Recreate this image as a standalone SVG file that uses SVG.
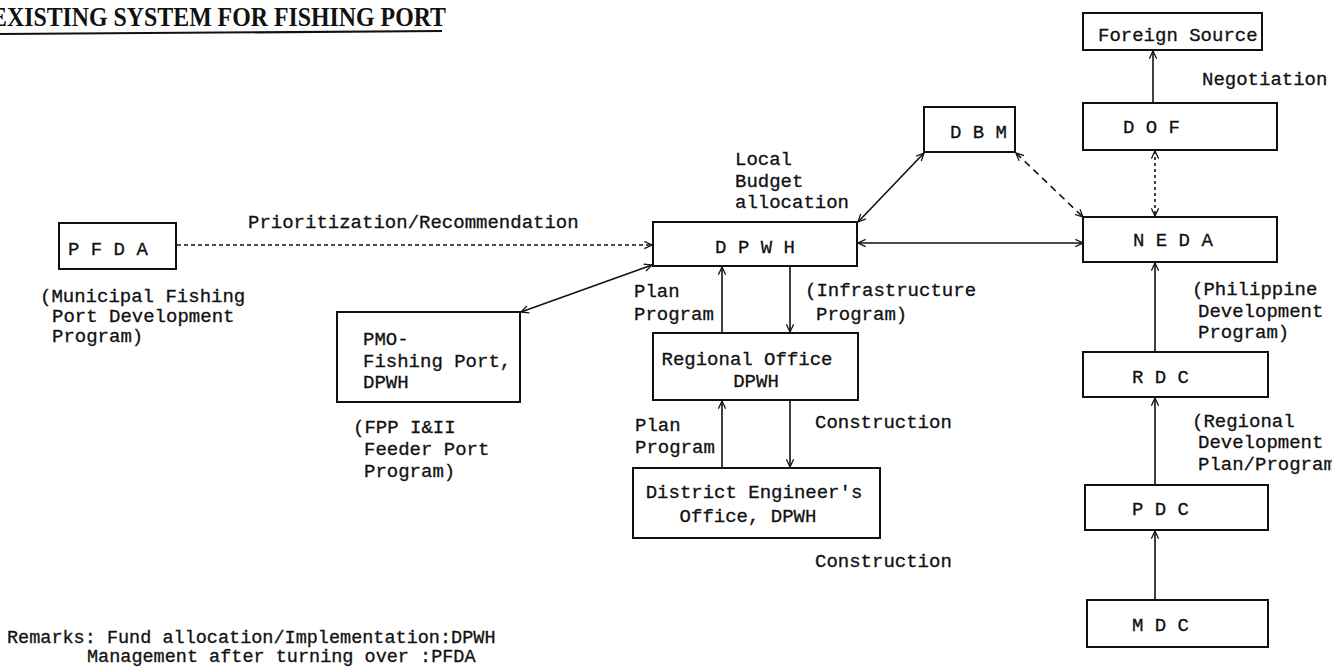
<svg xmlns="http://www.w3.org/2000/svg" width="1332" height="668" viewBox="0 0 1332 668">
<defs>
<marker id="ah" viewBox="0 0 10 10" refX="9.5" refY="5" markerWidth="9" markerHeight="9" markerUnits="userSpaceOnUse" orient="auto-start-reverse">
<path d="M1,1 L9.5,5 L1,9" fill="none" stroke="#111" stroke-width="1.4"/>
</marker>
<style>
.box{fill:#fff;stroke:#111;stroke-width:2}
.t{font-family:"Liberation Mono","Courier New",monospace;font-size:19px;fill:#111;stroke:#111;stroke-width:0.3}
.rm{font-size:18.5px}
.c{text-anchor:middle}
.ln{fill:none;stroke:#111;stroke-width:1.6}
.dash{stroke-dasharray:4 3}
.dash2{stroke-dasharray:7 5}
.dot{stroke-dasharray:3 3}
.title{font-family:"Liberation Serif","Times New Roman",serif;font-weight:bold;font-size:27px;fill:#111}
</style>
</defs>
<rect width="1332" height="668" fill="#fff"/>

<g id="title">
<text class="title" x="-9" y="26" textLength="455" lengthAdjust="spacingAndGlyphs">EXISTING SYSTEM FOR FISHING PORT</text>
<path d="M0,34 L442,31" stroke="#111" stroke-width="2.2" fill="none"/>
</g>

<g id="connectors">
<line class="ln dash" x1="177" y1="245" x2="652" y2="245" marker-end="url(#ah)"/>
<line class="ln" x1="521" y1="312" x2="652" y2="265" marker-start="url(#ah)" marker-end="url(#ah)"/>
<line class="ln" x1="858" y1="222" x2="924" y2="153" marker-start="url(#ah)" marker-end="url(#ah)"/>
<line class="ln dash2" x1="1016" y1="153" x2="1083" y2="217" marker-start="url(#ah)" marker-end="url(#ah)"/>
<line class="ln" x1="858" y1="243" x2="1083" y2="243" marker-start="url(#ah)" marker-end="url(#ah)"/>
<line class="ln dot" x1="1155" y1="151" x2="1155" y2="216" marker-start="url(#ah)" marker-end="url(#ah)"/>
<line class="ln" x1="1153" y1="103" x2="1153" y2="51" marker-end="url(#ah)"/>
<line class="ln" x1="1155" y1="352" x2="1155" y2="263" marker-end="url(#ah)"/>
<line class="ln" x1="1155" y1="485" x2="1155" y2="398" marker-end="url(#ah)"/>
<line class="ln" x1="1155" y1="600" x2="1155" y2="531" marker-end="url(#ah)"/>
<line class="ln" x1="722" y1="333" x2="722" y2="267" marker-end="url(#ah)"/>
<line class="ln" x1="790" y1="266" x2="790" y2="332" marker-end="url(#ah)"/>
<line class="ln" x1="722" y1="468" x2="722" y2="401" marker-end="url(#ah)"/>
<line class="ln" x1="790" y1="400" x2="790" y2="467" marker-end="url(#ah)"/>
</g>

<g id="labels">
<text class="t" x="248" y="228">Prioritization/Recommendation</text>
<text class="t" x="735" y="165">Local</text>
<text class="t" x="735" y="187">Budget</text>
<text class="t" x="735" y="208">allocation</text>
<text class="t" x="634" y="297">Plan</text>
<text class="t" x="634" y="320">Program</text>
<text class="t" x="805" y="296">(Infrastructure</text>
<text class="t" x="816" y="320">Program)</text>
<text class="t" x="635" y="431">Plan</text>
<text class="t" x="635" y="453">Program</text>
<text class="t" x="815" y="428">Construction</text>
<text class="t" x="815" y="567">Construction</text>
<text class="t" x="1202" y="85">Negotiation</text>
<text class="t" x="1192" y="295">(Philippine</text>
<text class="t" x="1198" y="317">Development</text>
<text class="t" x="1198" y="338">Program)</text>
<text class="t" x="1192" y="427">(Regional</text>
<text class="t" x="1198" y="448">Development</text>
<text class="t" x="1198" y="470">Plan/Program</text>
<text class="t" x="40" y="302">(Municipal Fishing</text>
<text class="t" x="52" y="322">Port Development</text>
<text class="t" x="52" y="342">Program)</text>
<text class="t" x="353" y="433">(FPP I&amp;II</text>
<text class="t" x="364" y="455">Feeder Port</text>
<text class="t" x="364" y="477">Program)</text>
<text class="t rm" x="7" y="643">Remarks: Fund allocation/Implementation:DPWH</text>
<text class="t rm" x="87" y="662">Management after turning over :PFDA</text>
</g>

<g id="pfda"><rect class="box" x="59" y="223" width="117" height="46"/><text class="t" x="68" y="255">P F D A</text></g>
<g id="dpwh"><rect class="box" x="653" y="222" width="204" height="44"/><text class="t c" x="755" y="253">D P W H</text></g>
<g id="pmo"><rect class="box" x="337" y="312" width="183" height="90"/>
<text class="t" x="363" y="345">PMO-</text><text class="t" x="363" y="367">Fishing Port,</text><text class="t" x="363" y="388">DPWH</text></g>
<g id="regional"><rect class="box" x="653" y="333" width="205" height="67"/>
<text class="t c" x="747" y="365">Regional Office</text><text class="t c" x="756" y="387">DPWH</text></g>
<g id="district"><rect class="box" x="633" y="468" width="247" height="70"/>
<text class="t c" x="754" y="498">District Engineer's</text><text class="t c" x="748" y="522">Office, DPWH</text></g>
<g id="dbm"><rect class="box" x="924" y="107" width="91" height="45"/><text class="t" x="950" y="138">D B M</text></g>
<g id="foreign"><rect class="box" x="1083" y="13" width="179" height="37"/><text class="t" x="1098" y="41">Foreign Source</text></g>
<g id="dof"><rect class="box" x="1083" y="103" width="194" height="47"/><text class="t" x="1123" y="133">D  O  F</text></g>
<g id="neda"><rect class="box" x="1083" y="217" width="194" height="45"/><text class="t" x="1133" y="246">N E D A</text></g>
<g id="rdc"><rect class="box" x="1083" y="352" width="185" height="45"/><text class="t" x="1132" y="383">R  D  C</text></g>
<g id="pdc"><rect class="box" x="1085" y="485" width="183" height="45"/><text class="t" x="1132" y="515">P  D  C</text></g>
<g id="mdc"><rect class="box" x="1087" y="600" width="181" height="47"/><text class="t" x="1132" y="631">M  D  C</text></g>
</svg>
